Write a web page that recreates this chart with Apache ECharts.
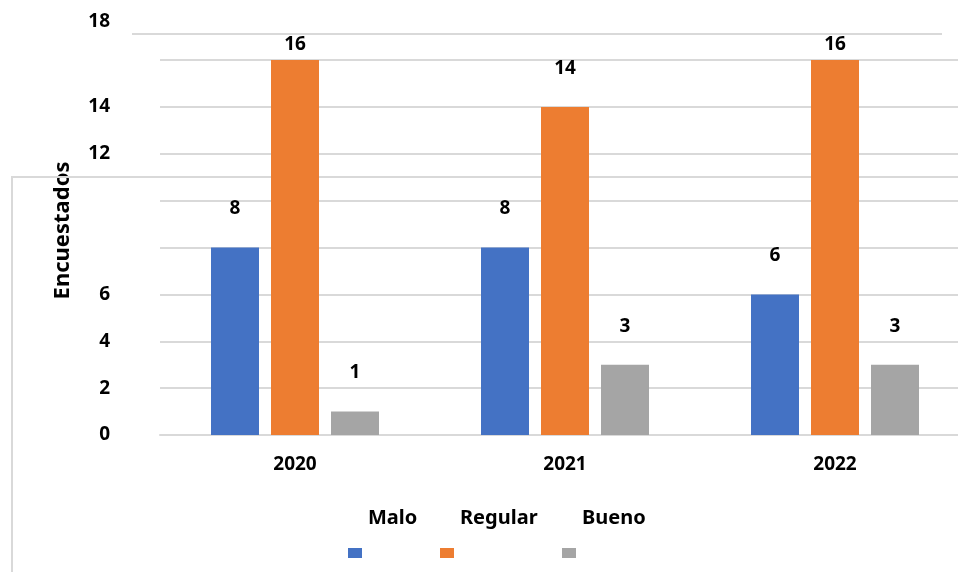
<!DOCTYPE html>
<html>
<head>
    <meta charset="utf-8">
    <title>Encuestados</title>
    <script src="https://cdn.jsdelivr.net/npm/echarts@6/dist/echarts.min.js"></script>
</head>
<body style="margin:0px;background:#fff;">
    <div id="main" style="width: 958px;height:572px;"></div>
    <script type="text/javascript">
    var categories = ['2020', '2021', '2022'];
    var seriesNames = ['Malo', 'Regular', 'Bueno'];
    var malo = [8, 8, 6];
    var regular = [16, 14, 16];
    var bueno = [1, 3, 3];
    // tick labels as printed on the chart (some are missing in the original)
    var yTickLabels = {0: '0', 2: '2', 4: '4', 6: '6', 12: '12', 14: '14'};
    var topLabel = '18';
    </script>
    <script type="text/javascript">
		var myChart = echarts.init(document.getElementById('main'));
		var font = 'Noto Sans';
		var colors = ['#4472C4', '#ED7D31', '#A5A5A5'];

		function makeData(arr) {
			return arr.map(function (v) {
				return {
					value: v,
					label: { distance: v >= 16 ? 6 : 29 }
				};
			});
		}

		// legend text sits above its colour box in the original
		var legendLeft = [343, 435, 557];
		var legends = seriesNames.map(function (name, i) {
			return {
				data: [name],
				left: legendLeft[i],
				top: 503,
				icon: 'rect',
				itemWidth: 14,
				itemHeight: 10,
				formatter: '{n|{name}}',
				textStyle: {
					rich: {
						n: {
							fontFamily: font,
							fontWeight: 'bold',
							fontSize: 20,
							color: '#000',
							padding: [0, 0, 70, 1]
						}
					}
				}
			};
		});

		var allData = [malo, regular, bueno];

		myChart.setOption({
			color: colors,
			animation: false,
			grid: {
				left: 160,
				top: 60,
				width: 810,
				bottom: 137,
				outerBoundsMode: 'none'
			},
			legend: legends,
			graphic: [
				{
					type: 'rect',
					z: 1,
					shape: { x: 12, y: 177, width: 1000, height: 500 },
					style: { fill: 'none', stroke: '#d9d9d9', lineWidth: 2 }
				},
				{
					type: 'line',
					z: 1,
					shape: { x1: 132, y1: 34, x2: 942, y2: 34 },
					style: { stroke: '#d9d9d9', lineWidth: 2 }
				},
				{
					type: 'text',
					right: 848,
					top: 12,
					style: {
						text: topLabel,
						font: 'bold 19px "Noto Sans"',
						fill: '#000'
					}
				}
			],
			xAxis: {
				type: 'category',
				data: categories,
				axisLine: { lineStyle: { color: '#d9d9d9', width: 2 } },
				axisTick: { show: false },
				axisLabel: {
					margin: 20,
					fontFamily: font,
					fontWeight: 'bold',
					fontSize: 19,
					color: '#000'
				}
			},
			yAxis: {
				type: 'value',
				min: 0,
				max: 16,
				interval: 2,
				name: 'Encuestados',
				nameLocation: 'middle',
				nameGap: 86,
				nameTextStyle: {
					fontFamily: font,
					fontWeight: 'bold',
					fontSize: 22,
					color: '#000',
					padding: [0, 0, 0, 34]
				},
				axisLine: { show: false },
				axisTick: { show: false },
				splitLine: { lineStyle: { color: '#d9d9d9', width: 2 } },
				axisLabel: {
					margin: 50,
					fontFamily: font,
					fontWeight: 'bold',
					fontSize: 19,
					color: '#000',
					formatter: function (v) {
						return yTickLabels[v] !== undefined ? yTickLabels[v] : '';
					}
				}
			},
			series: seriesNames.map(function (name, i) {
				return {
					name: name,
					type: 'bar',
					barWidth: 48,
					barGap: '25%',
					data: makeData(allData[i]),
					label: {
						show: true,
						position: 'top',
						fontFamily: font,
						fontWeight: 'bold',
						fontSize: 19,
						color: '#000'
					}
				};
			})
		});
    </script>
</body>
</html>
